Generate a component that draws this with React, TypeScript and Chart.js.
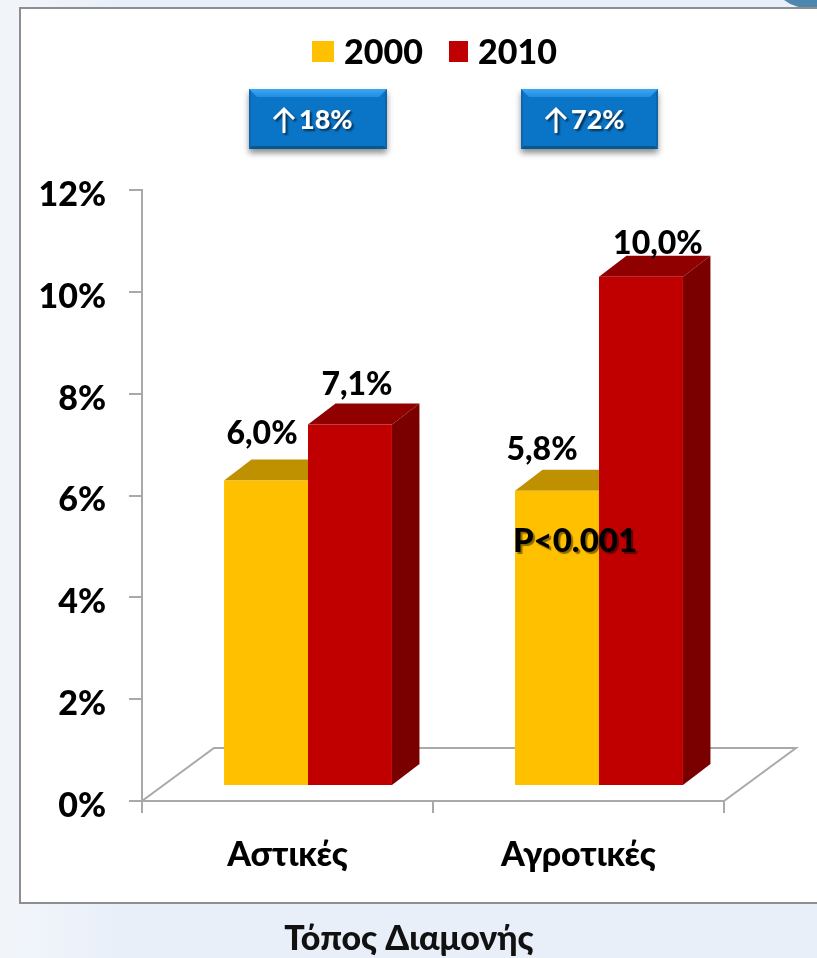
import React, { useEffect, useRef } from "react";
import { Chart, registerables } from "chart.js";

Chart.register(...registerables);

const categories = ["Αστικές", "Αγροτικές"];
const series2000 = [6.0, 5.8];
const series2010 = [7.1, 10.0];
const seriesNames = ["2000", "2010"];
const changeLabels = ["18%", "72%"];
const axisTitle = "Τόπος Διαμονής";
const pValue = "P<0.001";
const yMax = 12;
const yStep = 2;

const FONT = "Lato, 'Open Sans', sans-serif";
const W = 817;
const H = 958;
const GRAY = "#a9a9a9";
const SHIFT = { x: 20.5, y: -15 };
const DEPTH = { x: 27.5, y: -21 };
const FLOOR = { x: 72, y: -53 };
const LABEL_OFFSETS = [
  [[-4, -47], [7, -40]],
  [[-15, -41], [17, -33]],
];
const FACES = [
  { front: "#ffc000", top: "#bf9000", side: "#7f6000" },
  { front: "#c00000", top: "#900000", side: "#7a0000" },
];

function poly(ctx: CanvasRenderingContext2D, pts: number[][], fill: any) {
  ctx.fillStyle = fill;
  ctx.beginPath();
  pts.forEach((p, i) => (i ? ctx.lineTo(p[0], p[1]) : ctx.moveTo(p[0], p[1])));
  ctx.closePath();
  ctx.fill();
}

function drawBadge(ctx: CanvasRenderingContext2D, x: number, y: number, w: number, h: number, text: string) {
  ctx.save();
  ctx.shadowColor = "rgba(0,0,0,0.45)";
  ctx.shadowBlur = 6;
  ctx.shadowOffsetY = 4;
  ctx.fillStyle = "#0a74c6";
  ctx.fillRect(x, y, w, h);
  ctx.restore();
  const b = 8;
  const hi = ctx.createLinearGradient(0, y, 0, y + b);
  hi.addColorStop(0, "#3fa6ee");
  hi.addColorStop(1, "#1e8fe4");
  poly(ctx, [[x, y], [x + w, y], [x + w - b, y + b], [x + b, y + b]], hi);
  poly(ctx, [[x, y + h], [x + w, y + h], [x + w - 3, y + h - 3], [x + 3, y + h - 3]], "#0a568f");
  poly(ctx, [[x, y], [x + 2, y + 4], [x + 2, y + h - 2], [x, y + h]], "#0e65a8");
  poly(ctx, [[x + w, y], [x + w - 2, y + 4], [x + w - 2, y + h - 2], [x + w, y + h]], "#0e65a8");
  ctx.save();
  ctx.fillStyle = "#fff";
  ctx.strokeStyle = "#fff";
  ctx.shadowColor = "rgba(0,0,0,0.55)";
  ctx.shadowBlur = 2;
  ctx.shadowOffsetX = 2;
  ctx.shadowOffsetY = 2;
  ctx.textBaseline = "middle";
  ctx.textAlign = "left";
  ctx.font = `900 27px ${FONT}`;
  ctx.fillText(text, x + 50, y + 31);
  const ax = x + 35;
  ctx.lineWidth = 3;
  ctx.beginPath();
  ctx.moveTo(ax, y + 44);
  ctx.lineTo(ax, y + 20);
  ctx.moveTo(ax - 10, y + 30);
  ctx.lineTo(ax, y + 20);
  ctx.lineTo(ax + 10, y + 30);
  ctx.stroke();
  ctx.restore();
}

const backdropPlugin = {
  id: "backdrop",
  beforeDraw(chart: any) {
    const ctx = chart.ctx;
    ctx.save();
    const g = ctx.createLinearGradient(0, 0, 120, 0);
    g.addColorStop(0, "#f2f6fb");
    g.addColorStop(1, "#e9eff9");
    ctx.fillStyle = g;
    ctx.fillRect(0, 0, W, H);
    ctx.fillStyle = "#4f86ae";
    ctx.beginPath();
    ctx.moveTo(784, 0);
    ctx.quadraticCurveTo(795, 9, 817, 9);
    ctx.lineTo(817, 0);
    ctx.closePath();
    ctx.fill();
    ctx.fillStyle = "#ffffff";
    ctx.strokeStyle = "#8e8e8e";
    ctx.lineWidth = 2;
    ctx.beginPath();
    ctx.rect(20, 8, W + 20, 895);
    ctx.fill();
    ctx.stroke();
    ctx.restore();
  },
};

const depthPlugin = {
  id: "depth",
  beforeDatasetsDraw(chart: any) {
    const ctx = chart.ctx;
    const { left, right } = chart.chartArea;
    const y0 = chart.scales.y.getPixelForValue(0);
    ctx.save();
    ctx.strokeStyle = GRAY;
    ctx.lineWidth = 2;
    ctx.beginPath();
    ctx.moveTo(left, y0);
    ctx.lineTo(left + FLOOR.x, y0 + FLOOR.y);
    ctx.lineTo(right + FLOOR.x, y0 + FLOOR.y);
    ctx.lineTo(right, y0);
    ctx.stroke();
    ctx.restore();
  },
  beforeDatasetDraw(chart: any, args: any) {
    const ctx = chart.ctx;
    const faces = FACES[args.index];
    const hasRightNeighbour = args.index < chart.data.datasets.length - 1;
    ctx.save();
    ctx.translate(SHIFT.x, SHIFT.y);
    args.meta.data.forEach((bar: any) => {
      const l = bar.x - bar.width / 2;
      const r = bar.x + bar.width / 2;
      const t = bar.y;
      const b = bar.base;
      if (hasRightNeighbour) {
        // the neighbouring bar hides everything to the right of this bar's front face
        poly(ctx, [[l, t], [r, t], [r, t + DEPTH.y], [l + DEPTH.x, t + DEPTH.y]], faces.top);
      } else {
        poly(ctx, [[l, t], [r, t], [r + DEPTH.x, t + DEPTH.y], [l + DEPTH.x, t + DEPTH.y]], faces.top);
        poly(ctx, [[r, t], [r + DEPTH.x, t + DEPTH.y], [r + DEPTH.x, b + DEPTH.y], [r, b]], faces.side);
      }
    });
  },
  afterDatasetDraw(chart: any) {
    chart.ctx.restore();
  },
};

const annotationPlugin = {
  id: "annotations",
  afterDraw(chart: any) {
    const ctx = chart.ctx;
    ctx.save();
    ctx.fillStyle = "#000";
    ctx.textBaseline = "middle";

    // value labels
    ctx.textAlign = "center";
    ctx.font = `900 32px ${FONT}`;
    chart.data.datasets.forEach((ds: any, di: number) => {
      chart.getDatasetMeta(di).data.forEach((bar: any, i: number) => {
        const text = ds.data[i].toFixed(1).replace(".", ",") + "%";
        const off = LABEL_OFFSETS[i][di];
        ctx.fillText(text, bar.x + SHIFT.x + off[0], bar.y + SHIFT.y + off[1]);
      });
    });

    // p value
    ctx.save();
    ctx.shadowColor = "rgba(0,0,0,0.45)";
    ctx.shadowBlur = 1;
    ctx.shadowOffsetX = 2;
    ctx.shadowOffsetY = 2;
    ctx.font = `900 33px ${FONT}`;
    ctx.fillText(pValue, 575, 541);
    ctx.restore();

    // legend
    ctx.textAlign = "left";
    ctx.font = `900 34px ${FONT}`;
    const marks = [312, 449];
    seriesNames.forEach((name, i) => {
      ctx.fillStyle = chart.data.datasets[i].backgroundColor;
      ctx.fillRect(marks[i], 41, i ? 19 : 22, 21);
      ctx.fillStyle = "#000";
      ctx.fillText(name, marks[i] + (i ? 29 : 32), 53);
    });

    // axis title
    ctx.textAlign = "center";
    ctx.font = `900 34px ${FONT}`;
    ctx.fillStyle = "#111";
    ctx.fillText(axisTitle, 409, 939);
    ctx.restore();

    // change badges
    drawBadge(ctx, 249, 89, 138, 60, changeLabels[0]);
    drawBadge(ctx, 521, 89, 137, 60, changeLabels[1]);
  },
};

export default function App() {
  const ref = useRef<HTMLCanvasElement>(null);
  useEffect(() => {
    const chart = new Chart(ref.current as HTMLCanvasElement, {
      type: "bar",
      data: {
        labels: categories,
        datasets: [
          { label: seriesNames[0], data: series2000, backgroundColor: FACES[0].front, clip: false },
          { label: seriesNames[1], data: series2010, backgroundColor: FACES[1].front, clip: false },
        ] as any,
      },
      plugins: [backdropPlugin, depthPlugin, annotationPlugin],
      options: {
        animation: false,
        responsive: false,
        devicePixelRatio: 1,
        layout: { padding: { left: 0, right: 93, top: 190, bottom: 0 } },
        datasets: { bar: { barPercentage: 1, categoryPercentage: 0.577 } },
        plugins: { legend: { display: false }, tooltip: { enabled: false }, title: { display: false } },
        scales: {
          x: {
            afterFit: (s: any) => { s.height = 157; },
            grid: { offset: true, drawOnChartArea: false, color: GRAY, lineWidth: 2, tickLength: 12 },
            border: { color: GRAY, width: 2 },
            ticks: { color: "#000", font: { family: FONT, size: 34, weight: "900" }, padding: 22, maxRotation: 0 },
          },
          y: {
            min: 0,
            max: yMax,
            afterFit: (s: any) => { s.width = 142; },
            grid: { drawOnChartArea: false, color: GRAY, lineWidth: 2, tickLength: 13 },
            border: { color: GRAY, width: 2 },
            ticks: {
              stepSize: yStep,
              color: "#000",
              labelOffset: 5,
              padding: 23,
              font: { family: FONT, size: 34, weight: "900" },
              callback: (v: any) => v + "%",
            },
          },
        },
      } as any,
    });
    return () => chart.destroy();
  }, []);
  return (
    <div style={{ position: "fixed", left: 0, top: 0, width: W, height: H }}>
      <canvas ref={ref} width={W} height={H} style={{ display: "block", width: W, height: H }} />
    </div>
  );
}
